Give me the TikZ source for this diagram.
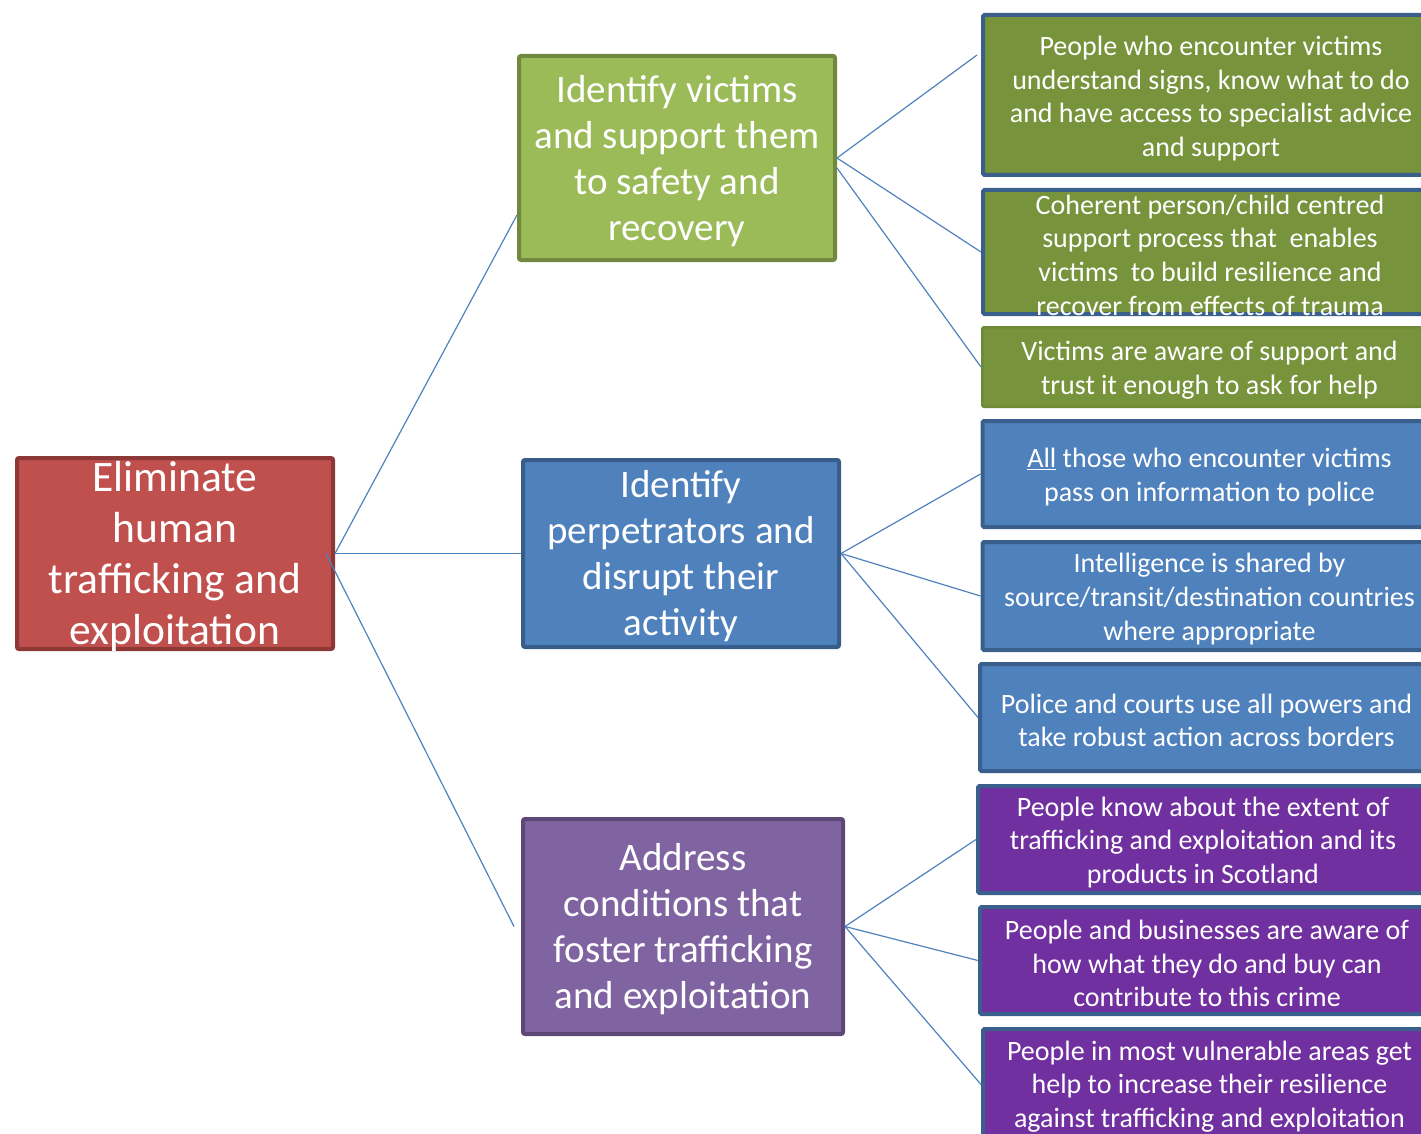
\documentclass[tikz,border=0pt]{standalone}
\usepackage{fontspec}
\setmainfont{Carlito}
\begin{document}
\begin{tikzpicture}[x=1pt,y=-1pt,
  box/.style={draw, line width=4pt, rounded corners=2pt, inner sep=0pt, anchor=center},
  rootbox/.style={box, fill=rootfill, draw=rootline},
  leafbox/.style={box, rounded corners=1.5pt},
  words/.style={text=white, align=center, inner sep=0pt, anchor=center},
  roottext/.style={words, font=\fontsize{43.5}{51}\selectfont},
  midtext/.style={words, font=\fontsize{39}{46}\selectfont},
  leaftext/.style={words, font=\fontsize{28}{33.6}\selectfont},
  link/.style={draw=linkblue, line width=1.2pt}
]
\definecolor{rootfill}{HTML}{C0504D}
\definecolor{rootline}{HTML}{8C3836}
\definecolor{gfill}{HTML}{9BBB59}
\definecolor{gline}{HTML}{71893F}
\definecolor{bfill}{HTML}{4F81BD}
\definecolor{bline}{HTML}{385D8A}
\definecolor{pfill}{HTML}{8064A2}
\definecolor{pline}{HTML}{5C4776}
\definecolor{leafgreen}{HTML}{77933C}
\definecolor{leafgreenline}{HTML}{6E8A37}
\definecolor{leafpurple}{HTML}{7030A0}
\definecolor{leafline}{HTML}{3A5F8C}
\definecolor{linkblue}{HTML}{4F81BD}

\useasboundingbox (0,0) rectangle (1421,1134);
\clip (0,0) rectangle (1421,1134);

% goal
\node[rootbox, minimum width=316pt, minimum height=191pt] (root) at (175,553.5) {};
\node[roottext] (roott) at ([yshift=-3pt]root.center)
  {Eliminate\\human\\trafficking and\\exploitation};

% strategic aims
\node[box, fill=gfill, draw=gline, minimum width=316pt, minimum height=204pt] (lg) at (677,158) {};
\node[midtext] (lgt) at ([yshift=-3pt]lg.center)
  {Identify victims\\and support them\\to safety and\\recovery};
\node[box, fill=bfill, draw=bline, minimum width=316pt, minimum height=187pt] (lb) at (681,553.5) {};
\node[midtext] (lbt) at ([yshift=-3pt]lb.center)
  {Identify\\perpetrators and\\disrupt their\\activity};
\node[box, fill=pfill, draw=pline, minimum width=320pt, minimum height=215pt] (lp) at (683,926.5) {};
\node[midtext] (lpt) at ([yshift=-3pt]lp.center)
  {Address\\conditions that\\foster trafficking\\and exploitation};

% outcomes: victims
\node[leafbox, fill=leafgreen, draw=leafline, minimum width=456pt, minimum height=160pt] (g1) at (1211,95) {};
\node[leaftext] (g1t) at ([yshift=-3.5pt]g1.center)
  {People who encounter victims\\understand signs, know what to do\\and have access to specialist advice\\and support};
\node[leafbox, fill=leafgreen, draw=leafline, minimum width=454pt, minimum height=124pt] (g2) at (1210,252) {};
\node[leaftext] (g2t) at ([yshift=-3pt]g2.center)
  {Coherent person/child centred\\support process that \ enables\\victims \ to build resilience and\\recover from effects of trauma};
\node[leafbox, fill=leafgreen, draw=leafgreenline, line width=2.5pt, minimum width=454.5pt, minimum height=79.5pt] (g3) at (1209.5,367) {};
\node[leaftext] (g3t) at ([yshift=-3pt]g3.center)
  {Victims are aware of support and\\trust it enough to ask for help};

% outcomes: perpetrators
\node[leafbox, fill=bfill, draw=leafline, minimum width=454pt, minimum height=106pt] (b1) at (1209.5,474) {};
\node[leaftext] (b1t) at ([yshift=-3pt]b1.center)
  {\underline{All} those who encounter victims\\pass on information to police};
\node[leafbox, fill=bfill, draw=leafline, minimum width=454pt, minimum height=108pt] (b2) at (1209.5,596) {};
\node[leaftext] (b2t) at ([yshift=-3pt]b2.center)
  {Intelligence is shared by\\source/transit/destination countries\\where appropriate};
\node[leafbox, fill=bfill, draw=leafline, minimum width=453pt, minimum height=107pt] (b3) at (1206.5,717.5) {};
\node[leaftext] (b3t) at ([yshift=-3pt]b3.center)
  {Police and courts use all powers and\\take robust action across borders};

% outcomes: conditions
\node[leafbox, fill=leafpurple, draw=leafline, minimum width=450pt, minimum height=107pt] (p1) at (1203,839.5) {};
\node[leaftext] (p1t) at ([yshift=-3pt]p1.center)
  {People know about the extent of\\trafficking and exploitation and its\\products in Scotland};
\node[leafbox, fill=leafpurple, draw=leafline, minimum width=454pt, minimum height=107pt] (p2) at (1207,960.5) {};
\node[leaftext] (p2t) at ([yshift=-3pt]p2.center)
  {People and businesses are aware of\\how what they do and buy can\\contribute to this crime};
\node[leafbox, fill=leafpurple, draw=leafline, minimum width=453pt, minimum height=111pt] (p3) at (1209.5,1084.5) {};
\node[leaftext] (p3t) at ([yshift=-2pt]p3.center)
  {People in most vulnerable areas get\\help to increase their resilience\\against trafficking and exploitation};

% connectors
\draw[link] (root.east) -- ([yshift=-57pt]lg.west);
\draw[link] (root.east) -- (lb.west);
\draw[link] ([xshift=-9pt]root.east) -- ([xshift=-7pt]lp.west);

\draw[link] (lg.east) -- ([xshift=-4pt,yshift=40pt]g1.west);
\draw[link] (lg.east) -- (g2.west);
\draw[link] ([yshift=-10pt]lg.east) -- (g3.west);

\draw[link] (lb.east) -- (b1.west);
\draw[link] (lb.east) -- (b2.west);
\draw[link] (lb.east) -- (b3.west);

\draw[link] (lp.east) -- (p1.west);
\draw[link] (lp.east) -- (p2.west);
\draw[link] (lp.east) -- (p3.west);
\end{tikzpicture}
\end{document}
